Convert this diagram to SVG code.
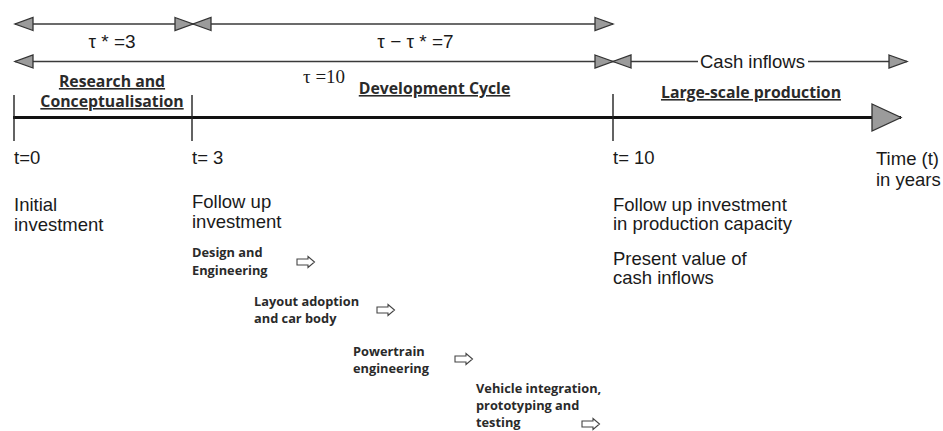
<svg xmlns="http://www.w3.org/2000/svg" width="943" height="431" viewBox="0 0 943 431">
  <style>
    .bg { fill: #ffffff; }
    .span { stroke: #3a3a3a; stroke-width: 1.6; fill: none; }
    .axis { stroke: #111111; stroke-width: 3; fill: none; }
    .tick { stroke: #222222; stroke-width: 1.4; fill: none; }
    .head { fill: #9b9b9b; stroke: #333333; stroke-width: 1.3; stroke-linejoin: miter; }
    .hollow { fill: #ffffff; stroke: #444444; stroke-width: 1.1; stroke-linejoin: miter; }
    .sans { font-family: "Liberation Sans", Arial, sans-serif; font-size: 18.5px; fill: #1a1a1a; }
    .tau { font-family: "Liberation Sans", Arial, sans-serif; font-size: 19px; fill: #1a1a1a; }
    .serif { font-family: "Liberation Serif", "Times New Roman", serif; font-size: 19px; fill: #1a1a1a; }
    .phase { font-family: "Open Sans", "Noto Sans", sans-serif; font-weight: 700; font-size: 15.8px; fill: #2a2a2a; text-decoration: underline; }
    .step { font-family: "Open Sans", "Noto Sans", sans-serif; font-weight: 700; font-size: 12.8px; fill: #2a2a2a; }
  </style>
  <defs>
    <!-- gray triangular head for the span arrows -->
    <marker id="tri" markerUnits="userSpaceOnUse" viewBox="-1 -1 20 15" markerWidth="20" markerHeight="15" refX="18" refY="6.5" orient="auto-start-reverse" overflow="visible">
      <polygon class="head" points="0,0 18,6.5 0,13"/>
    </marker>
    <!-- larger head for the time axis -->
    <marker id="triBig" markerUnits="userSpaceOnUse" viewBox="-1 -1 31 29" markerWidth="31" markerHeight="29" refX="29" refY="13.5" orient="auto" overflow="visible">
      <polygon class="head" points="0,0 29,13.5 0,27"/>
    </marker>
    <!-- small outlined block arrow used beside each development step -->
    <path id="blockArrow" class="hollow" d="M0,-3 H11 V-5.5 L17.5,0 L11,5.5 V3 H0 Z"/>
  </defs>

  <rect class="bg" x="0" y="0" width="943" height="431"/>

  <!-- spans and time axis -->
  <g id="connectors">
    <path class="span" d="M15,24 H193" marker-start="url(#tri)" marker-end="url(#tri)"/>
    <path class="span" d="M193,24 H613" marker-start="url(#tri)" marker-end="url(#tri)"/>
    <path class="span" d="M15,61.5 H613" marker-start="url(#tri)" marker-end="url(#tri)"/>
    <path class="span" d="M613,61.5 H698" marker-start="url(#tri)"/>
    <path class="span" d="M808,61.5 H907" marker-end="url(#tri)"/>
    <path class="axis" d="M13,117.5 H901" marker-end="url(#triBig)"/>
    <path class="tick" d="M14,95 V141 M192,95 V141 M613,94 V141"/>
  </g>

  <g id="span-labels">
    <text class="tau" x="112" y="47.5" text-anchor="middle">τ * =3</text>
    <text class="tau" x="415.5" y="47.5" text-anchor="middle">τ − τ * =7</text>
    <text class="serif" x="303" y="83">τ =10</text>
    <text class="sans" x="700" y="67.5">Cash inflows</text>
  </g>

  <g id="phase-research">
    <text class="phase" x="112" y="87" text-anchor="middle">Research and</text>
    <text class="phase" x="112" y="107" text-anchor="middle">Conceptualisation</text>
  </g>
  <g id="phase-development">
    <text class="phase" x="434.5" y="94" text-anchor="middle">Development Cycle</text>
  </g>
  <g id="phase-production">
    <text class="phase" x="751" y="98" text-anchor="middle">Large-scale production</text>
  </g>

  <g id="t0">
    <text class="sans" x="14" y="164">t=0</text>
    <text class="sans" x="14" y="211">Initial</text>
    <text class="sans" x="14" y="231">investment</text>
  </g>
  <g id="t3">
    <text class="sans" x="192" y="164">t= 3</text>
    <text class="sans" x="192" y="208">Follow up</text>
    <text class="sans" x="192" y="228">investment</text>
  </g>
  <g id="t10">
    <text class="sans" x="613" y="164">t= 10</text>
    <text class="sans" x="613" y="211">Follow up investment</text>
    <text class="sans" x="613" y="230">in production capacity</text>
    <text class="sans" x="613" y="265">Present value of</text>
    <text class="sans" x="613" y="284">cash inflows</text>
  </g>
  <g id="time-unit">
    <text class="sans" x="876" y="165">Time (t)</text>
    <text class="sans" x="876" y="186">in years</text>
  </g>

  <g id="step-design">
    <text class="step" x="192" y="257">Design and</text>
    <text class="step" x="192" y="275">Engineering</text>
    <use href="#blockArrow" x="297" y="262"/>
  </g>
  <g id="step-layout">
    <text class="step" x="254" y="306">Layout adoption</text>
    <text class="step" x="254" y="323">and car body</text>
    <use href="#blockArrow" x="377" y="310"/>
  </g>
  <g id="step-powertrain">
    <text class="step" x="353" y="356">Powertrain</text>
    <text class="step" x="353" y="373">engineering</text>
    <use href="#blockArrow" x="455" y="359"/>
  </g>
  <g id="step-integration">
    <text class="step" x="476" y="393">Vehicle integration,</text>
    <text class="step" x="476" y="410">prototyping and</text>
    <text class="step" x="476" y="427">testing</text>
    <use href="#blockArrow" x="582" y="424"/>
  </g>
</svg>
